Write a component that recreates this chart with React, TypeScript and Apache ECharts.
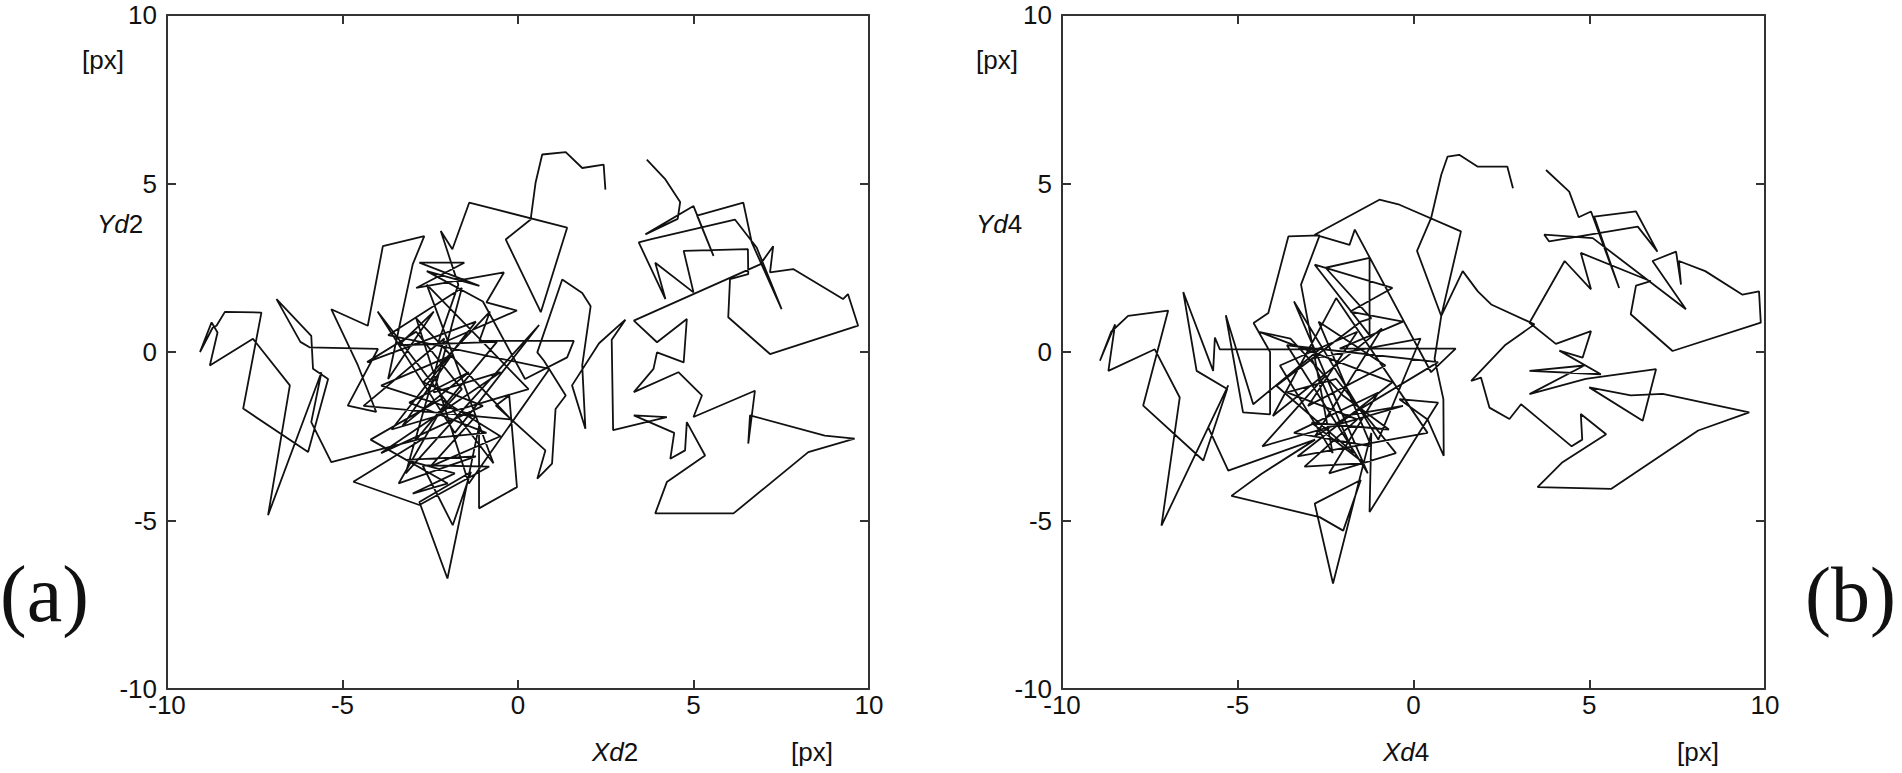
import React, { useEffect, useRef } from "react";
import * as echarts from "echarts";

// Axis ticks
const axisMin = -10;
const axisMax = 10;
const axisStep = 5;

// Trajectory (a): Xd2 / Yd2 in px
const trackA: number[][] = [
  [3.67, 5.71], [4.2, 5.12], [4.62, 4.45], [4.55, 3.95], [3.63, 3.49], [5.0, 4.33], [5.57, 2.85], [5.1, 4.05],
  [6.42, 4.43], [6.66, 3.25], [7.51, 1.27], [6.8, 3.1], [6.18, 3.93], [3.8, 3.35], [3.44, 3.25], [4.2, 1.57],
  [3.91, 2.65], [5.0, 1.77], [4.72, 3.0], [6.55, 3.05], [6.56, 2.31], [6.04, 2.16], [5.99, 1.03], [7.18, -0.06],
  [9.69, 0.78], [9.4, 1.72], [9.26, 1.57], [7.84, 2.46], [7.18, 2.36], [7.27, 3.14], [6.9, 2.6], [3.3, 0.93],
  [3.96, 0.29], [4.81, 0.98], [4.72, -0.31], [3.96, -0.01], [3.86, -0.5], [3.3, -1.19], [4.57, -0.6], [5.24, -1.29],
  [5.0, -1.93], [6.75, -1.15], [6.56, -2.72], [6.61, -1.88], [8.74, -2.48], [9.59, -2.57], [8.27, -2.97], [6.14, -4.79],
  [3.91, -4.79], [4.24, -3.86], [5.33, -3.07], [4.81, -2.08], [4.76, -2.92], [4.34, -3.17], [4.45, -2.4], [3.3, -1.88],
  [4.24, -1.93], [2.71, -2.32], [2.67, 0.36], [3.06, 0.96], [2.31, 0.26], [1.54, -0.99], [1.92, -2.28], [1.83, -0.4],
  [2.07, 1.36], [1.83, 1.75], [1.26, 2.15], [0.55, -0.01], [0.74, -0.26], [1.36, -1.29], [1.07, -1.69], [0.97, -3.31],
  [0.55, -3.76], [0.78, -2.92], [-0.63, -1.59], [-0.25, -1.29], [-0.03, -4.01], [-1.11, -4.64], [-1.11, -2.2], [-2.01, -6.72],
  [-2.81, -4.45], [-1.34, -3.56], [-1.86, -5.14], [-2.72, -3.36], [-0.82, -3.4], [-2.81, -4.54], [-4.69, -3.85], [-2.67, -2.55],
  [-5.32, -3.27], [-5.89, -2.08], [-5.6, -0.6], [-7.12, -4.84], [-6.5, -0.99], [-7.55, 0.39], [-8.78, -0.4], [-8.56, 0.58],
  [-8.73, 0.88], [-9.06, 0.0], [-8.7, 0.72], [-8.59, 0.78], [-8.35, 1.19], [-7.31, 1.17], [-7.83, -1.68], [-5.98, -2.97],
  [-5.41, -0.8], [-5.84, -0.5], [-5.89, 0.48], [-6.88, 1.57], [-6.2, 0.3], [-5.94, 0.14], [-3.99, 0.09], [-4.85, -1.59],
  [-4.04, -1.78], [-4.56, -0.4], [-5.32, 1.27], [-4.28, 0.78], [-3.85, 3.14], [-2.67, 3.44], [-3.0, 2.6], [-3.7, -0.8],
  [-2.4, 1.2], [-3.4, 0.2], [-0.6, 0.3], [-2.9, -2.6], [-0.9, -2.4], [-3.1, -1.5], [-1.4, -0.6], [-3.3, -2.2],
  [-1.9, -0.1], [-3.9, -1.0], [-1.2, -1.9], [-2.5, -3.4], [-0.5, -2.5], [-2.2, -1.4], [-4.2, -2.6], [-2.0, -3.9],
  [-3.0, -4.2], [-1.8, -3.6], [-3.2, -3.2], [-1.2, -3.1], [-3.4, -3.9], [-2.3, -1.9], [-1.6, -1.1], [-2.9, 0.6],
  [-4.3, -0.3], [-1.2, 0.9], [-3.6, -2.3], [0.3, -1.1], [-2.6, 2.0], [-0.7, -3.3], [-4.0, 1.2], [-1.8, -2.4],
  [0.6, 0.8], [-3.2, -3.6], [-2.1, 0.4], [-4.4, -1.6], [-0.2, -2.0], [-2.9, 1.0], [-1.4, -3.9], [0.9, -0.5],
  [-3.7, 0.5], [-1.6, 1.9], [-2.4, -1.2], [-0.5, -0.6], [-3.9, -3.0], [-1.0, -1.6], [-2.7, -0.9], [-0.8, 1.2],
  [-1.1, 0.33], [1.59, 0.33], [1.4, -0.16], [0.2, -0.8], [-1.0, 1.5], [-2.6, 2.4], [-1.1, 1.96], [-2.81, 2.65],
  [-1.53, 2.65], [-2.9, 1.9], [-0.4, 2.36], [-0.9, 1.47], [-0.03, 1.23], [-2.3, 0.2], [-1.7, 2.0], [-2.2, 3.59],
  [-1.87, 3.05], [-1.39, 4.43], [-0.63, 4.23], [1.4, 3.69], [0.65, 1.18], [-0.35, 3.34], [0.36, 3.93], [0.5, 5.02],
  [0.69, 5.86], [1.36, 5.93], [1.83, 5.46], [2.44, 5.56], [2.49, 4.82],
];

// Trajectory (b): Xd4 / Yd4 in px
const trackB: number[][] = [
  [3.77, 5.4], [4.43, 4.76], [4.7, 4.0], [5.05, 4.17], [5.85, 1.9], [5.14, 4.02], [6.33, 4.17], [6.94, 2.98],
  [6.38, 3.72], [3.86, 3.28], [3.72, 3.48], [5.1, 3.38], [7.75, 1.27], [6.8, 2.7], [7.47, 2.98], [7.61, 2.0],
  [7.55, 2.7], [8.3, 2.4], [9.36, 1.7], [9.83, 1.8], [9.88, 0.87], [7.37, 0.03], [6.18, 1.12], [6.33, 1.97],
  [6.75, 2.1], [4.76, 2.94], [5.05, 1.86], [4.3, 2.7], [3.3, 0.87], [4.05, 0.24], [5.05, 0.62], [4.81, -0.17],
  [4.15, 0.04], [5.33, -0.66], [3.3, -0.56], [4.86, -0.4], [3.3, -1.25], [4.9, -0.8], [6.9, -0.51], [6.52, -2.04],
  [5.0, -1.05], [6.18, -1.29], [7.09, -1.24], [9.55, -1.79], [8.1, -2.33], [5.63, -4.06], [3.53, -4.01], [4.24, -3.27],
  [5.48, -2.44], [4.76, -1.84], [4.8, -2.6], [4.5, -2.8], [3.06, -1.55], [2.73, -1.99], [2.16, -1.65], [1.92, -0.76],
  [1.64, -0.86], [2.6, 0.2], [3.44, 0.82], [2.21, 1.41], [1.83, 1.8], [1.4, 2.4], [0.79, 1.07], [0.6, -0.2],
  [0.85, -1.4], [0.86, -3.08], [0.4, -2.0], [-0.4, -1.4], [0.7, -1.5], [-1.25, -4.75], [-1.2, -2.4], [-2.29, -6.87],
  [-2.81, -4.5], [-1.5, -3.8], [-2.0, -5.3], [-2.67, -4.9], [-5.18, -4.27], [-4.33, -3.62], [-2.8, -2.6], [-5.27, -3.52],
  [-5.84, -2.24], [-5.27, -0.99], [-7.17, -5.15], [-6.65, -1.35], [-7.36, 0.08], [-8.68, -0.56], [-8.49, 0.82], [-8.92, -0.26],
  [-8.6, 0.6], [-8.12, 1.07], [-6.98, 1.23], [-7.69, -1.59], [-5.98, -3.22], [-5.3, -1.1], [-6.17, -0.56], [-6.55, 1.78],
  [-5.7, -0.56], [-5.65, 0.43], [-5.51, 0.08], [-2.67, 0.08], [-4.56, -1.55], [-5.34, 1.09], [-4.85, -1.79], [-4.08, -1.85],
  [-4.08, 0.0], [-4.55, 0.86], [-4.13, 1.16], [-3.56, 3.43], [-2.67, 3.46], [-3.2, 2.0], [-2.3, -3.0], [-3.8, -0.4],
  [-1.6, 0.6], [-3.0, -1.6], [-0.8, -0.4], [-2.7, 0.9], [-1.2, -2.8], [-3.4, -2.4], [-1.0, -1.2], [-2.4, -3.6],
  [-0.5, -3.0], [-2.2, -0.8], [-3.6, -1.2], [-1.6, -2.0], [-3.1, -3.4], [-1.4, -3.3], [-2.9, -2.1], [-0.7, -2.3],
  [-2.0, -1.3], [-3.5, 0.4],
  [-4.4, 0.6], [-0.6, -0.9], [-3.3, -3.1], [0.4, -2.4], [-2.2, 1.6], [-4.0, -1.9], [-0.9, 0.7], [-2.8, -2.5],
  [0.7, -0.3], [-3.6, 0.2], [-1.3, -3.6], [-2.5, -0.7], [-4.3, -2.8], [-0.3, -1.6], [-2.0, -1.9], [-3.4, 1.5],
  [-1.0, -2.6], [0.2, 0.4], [-2.9, -0.2], [-1.7, -3.0], [-3.9, -1.0], [-1.5, 0.9],
  [-1.2, 1.0], [-2.5, 2.5], [-1.25, 2.79], [-1.25, 0.5], [-2.81, 2.59], [-0.6, 1.9],
  [-1.8, 1.2], [-0.3, 0.9], [-2.1, 0.1], [1.2, 0.1], [0.5, -0.6], [-1.67, 3.63], [-1.82, 3.18], [-2.81, 3.48],
  [-0.97, 4.52], [-0.4, 4.37], [1.35, 3.58], [0.79, 1.07], [0.1, 3.0], [0.5, 3.97], [0.79, 5.26], [0.97, 5.8],
  [1.3, 5.85], [1.83, 5.5], [2.67, 5.5], [2.83, 4.86],
];

const panelLetters = ["(a)", "(b)"];
const xNames = ["Xd2", "Xd4"];
const yNames = ["Yd2", "Yd4"];
const unitLabel = "[px]";

const FONT = "Liberation Sans";
const AXIS_COLOR = "#333";

export default function App() {
  const ref = useRef<HTMLDivElement>(null);

  useEffect(() => {
    if (!ref.current) return;
    const chart = echarts.init(ref.current, undefined, { renderer: "svg" });

    const grids = [
      { left: 167, top: 15, width: 702, height: 674 },
      { left: 1062, top: 15, width: 703, height: 674 },
    ];

    const baseAxis = {
      type: "value" as const,
      min: axisMin,
      max: axisMax,
      interval: axisStep,
      splitLine: { show: false },
      axisLine: { show: true, onZero: false, lineStyle: { color: AXIS_COLOR, width: 2 } },
      axisTick: { show: true, inside: true, length: 9, lineStyle: { color: AXIS_COLOR, width: 2 } },
    };

    const xAxes: any[] = [];
    const yAxes: any[] = [];
    grids.forEach((_, i) => {
      xAxes.push({
        ...baseAxis,
        gridIndex: i,
        position: "bottom",
        axisLabel: { fontSize: 26, color: "#111", fontFamily: FONT, margin: 3 },
      });
      xAxes.push({ ...baseAxis, gridIndex: i, position: "top", axisLabel: { show: false } });
      yAxes.push({
        ...baseAxis,
        gridIndex: i,
        position: "left",
        axisLabel: { fontSize: 26, color: "#111", fontFamily: FONT, margin: 10 },
      });
      yAxes.push({ ...baseAxis, gridIndex: i, position: "right", axisLabel: { show: false } });
    });

    const textStyle = (text: string, x: number, y: number, extra: any = {}) => ({
      type: "text",
      x,
      y,
      style: {
        text,
        fontSize: 26,
        fontFamily: FONT,
        fill: "#111",
        verticalAlign: "middle",
        ...extra,
      },
    });

    const richName = (name: string) => `{i|${name.slice(0, 2)}}{n|${name.slice(2)}}`;
    const rich = {
      i: { fontStyle: "italic", fontSize: 26, fontFamily: FONT, fill: "#111" },
      n: { fontSize: 26, fontFamily: FONT, fill: "#111" },
    };

    const graphic: any[] = [
      textStyle(unitLabel, 82, 60),
      textStyle(richName(yNames[0]), 97, 224, { rich }),
      textStyle(richName(xNames[0]), 592, 752, { rich }),
      textStyle(unitLabel, 791, 752),
      textStyle(unitLabel, 976, 60),
      textStyle(richName(yNames[1]), 976, 224, { rich }),
      textStyle(richName(xNames[1]), 1383, 752, { rich }),
      textStyle(unitLabel, 1677, 752),
      {
        type: "text",
        x: 0,
        y: 594,
        style: { text: panelLetters[0], fontSize: 80, fontFamily: "Liberation Serif", fill: "#111", verticalAlign: "middle" },
      },
      {
        type: "text",
        x: 1896,
        y: 594,
        style: {
          text: panelLetters[1],
          fontSize: 78,
          fontFamily: "Liberation Serif",
          fill: "#111",
          verticalAlign: "middle",
          align: "right",
        },
      },
    ];

    chart.setOption({
      animation: false,
      backgroundColor: "#ffffff",
      grid: grids,
      xAxis: xAxes,
      yAxis: yAxes,
      graphic,
      series: [
        {
          type: "line",
          xAxisIndex: 0,
          yAxisIndex: 0,
          data: trackA,
          showSymbol: false,
          lineStyle: { color: "#111", width: 1.8 },
          silent: true,
        },
        {
          type: "line",
          xAxisIndex: 2,
          yAxisIndex: 2,
          data: trackB,
          showSymbol: false,
          lineStyle: { color: "#111", width: 1.8 },
          silent: true,
        },
      ],
    });

    return () => chart.dispose();
  }, []);

  return (
    <div
      ref={ref}
      style={{ position: "absolute", left: 0, top: 0, width: 1902, height: 773, background: "#fff" }}
    />
  );
}
